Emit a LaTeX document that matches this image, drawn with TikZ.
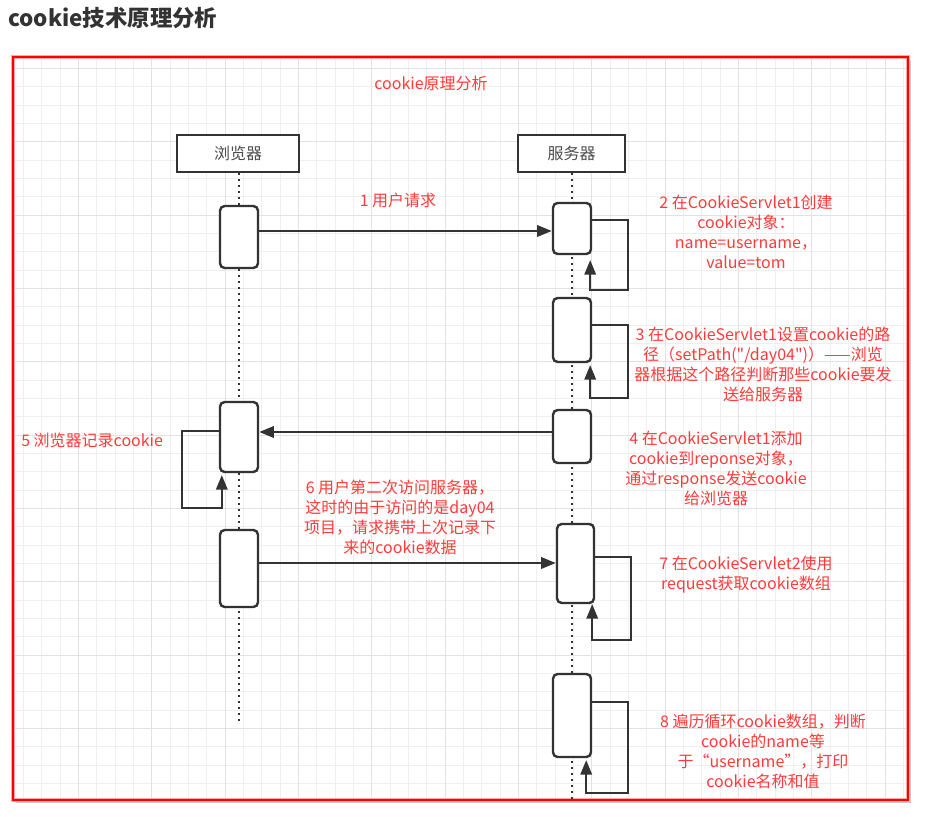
\documentclass[tikz,border=0pt]{standalone}
\usepackage{fontspec}
\setmainfont{Noto Sans CJK SC}[Ligatures=TeXOff]
\usetikzlibrary{arrows.meta}
\definecolor{ink}{HTML}{333333}
\definecolor{lblred}{HTML}{FF3B3B}
\definecolor{framered}{HTML}{FF0000}
\definecolor{gridminor}{HTML}{EFEFEF}
\definecolor{gridmajor}{HTML}{E2E2E2}
\tikzset{
  actbox/.style={draw=ink, fill=white, line width=1.8pt, rounded corners=3.5pt,
    minimum width=28.5pt, inner sep=0pt},
  headbox/.style={draw=ink, fill=white, line width=1.8pt, inner sep=0pt,
    minimum height=27.75pt, font=\fontsize{12}{15}\selectfont, text=black!70},
  msg/.style={draw=ink, line width=1.8pt, -{Triangle[length=11pt,width=8.5pt]}},
  lifeline/.style={draw=ink, line width=1.7pt, dash pattern=on 1.5pt off 3pt},
  lbl/.style={text=lblred, font=\fontsize{12}{15}\selectfont, align=center, inner sep=0pt}
}
\begin{document}
\begin{tikzpicture}[x=0.75pt,y=-0.75pt]
\useasboundingbox (0,0) rectangle (932,817);
% heading
\node[anchor=west, inner sep=0pt, text=ink, font=\fontsize{16.8}{20}\selectfont\bfseries] (heading) at (8,18) {cookie技术原理分析};
% frame shadow and background
\fill[black!22] (16,60) rectangle (911,803);
\fill[white] (13,57) rectangle (908,800);
% grid
\foreach \i in {-11,...,37} {
  \pgfmathsetmacro\xx{225+18.3333*\i}
  \draw[gridminor, line width=0.75pt] (\xx,57) -- (\xx,800);
}
\foreach \j in {-36,...,3} {
  \pgfmathsetmacro\yy{728.333+18.3333*\j}
  \draw[gridminor, line width=0.75pt] (13,\yy) -- (908,\yy);
}
\foreach \i in {-2,...,9} {
  \pgfmathsetmacro\xx{225+73.3333*\i}
  \draw[gridmajor, line width=0.75pt] (\xx,57) -- (\xx,800);
}
\foreach \j in {-9,...,0} {
  \pgfmathsetmacro\yy{728.333+73.3333*\j}
  \draw[gridmajor, line width=0.75pt] (13,\yy) -- (908,\yy);
}
% frame
\draw[framered!35, line width=3pt] (13,57) rectangle (908,800);
\draw[framered, line width=1.5pt] (13,57) rectangle (908,800);

% headers
\node[headbox, minimum width=91.5pt] (Br) at (238,153.5) {浏览器};
\node[headbox, minimum width=80.25pt] (Sv) at (571.5,153.5) {服务器};
\coordinate (brend) at (239,722);
\coordinate (svend) at (572,799);
\draw[lifeline] (Br.south -| brend) -- (brend);
\draw[lifeline] (Sv.south -| svend) -- (svend);

% activation boxes
\node[actbox, minimum height=46.5pt] (B1) at (239,237) {};
\node[actbox, minimum height=52.5pt] (B2) at (239,437) {};
\node[actbox, minimum height=57.75pt] (B3) at (239,568.5) {};
\node[actbox, minimum height=38.25pt] (S1) at (572,228.5) {};
\node[actbox, minimum height=48pt] (S2) at (572,330) {};
\node[actbox, minimum height=39.75pt] (S3) at (572,436.5) {};
\node[actbox, minimum width=27.75pt, minimum height=59.25pt] (S4) at (575.5,563.5) {};
\node[actbox, minimum height=62.25pt] (S5) at (572,715.5) {};

% message levels
\coordinate (y1) at (0,231);
\coordinate (y4) at (0,432);
\coordinate (y6) at (0,563);
\coordinate (l1) at (0,220);
\coordinate (l2) at (0,325);
\coordinate (l5) at (0,431);
\coordinate (l7) at (0,557);
\coordinate (l8) at (0,702);

% messages
\draw[msg] (B1.east |- y1) -- (S1.west |- y1);
\draw[msg] (S3.west |- y4) -- (B2.east |- y4);
\draw[msg] (B3.east |- y6) -- (S4.west |- y6);

% self loops
\draw[msg] (S1.east |- l1) -- ++(36,0) -- ++(0,70) -- ++(-38,0) -- ++(0,-30);
\draw[msg] (S2.east |- l2) -- ++(36,0) -- ++(0,73) -- ++(-38,0) -- ++(0,-33);
\draw[msg] (B2.west |- l5) -- ++(-37,0) -- ++(0,77) -- ++(40,0) -- ++(0,-33);
\draw[msg] (S4.east |- l7) -- ++(36,0) -- ++(0,83) -- ++(-39,0) -- ++(0,-36);
\draw[msg] (S5.east |- l8) -- ++(36,0) -- ++(0,91) -- ++(-42,0) -- ++(0,-33);

% labels
\node[lbl] (L0) at (431,83) {cookie原理分析};
\node[lbl] (L1) at (398,200) {1 用户请求};
\node[lbl] (L2) at (746,232) {2 在CookieServlet1创建\\cookie对象：\\name=username，\\value=tom};
\node[lbl] (L3) at (763,364.5) {3 在CookieServlet1设置cookie的路\\径（setPath("/day04")）——浏览\\器根据这个路径判断那些cookie要发\\送给服务器};
\node[lbl] (L4) at (716,468) {4 在CookieServlet1添加\\cookie到reponse对象，\\通过response发送cookie\\给浏览器};
\node[lbl, anchor=west] (L5) at (21,440) {5 浏览器记录cookie};
\node[lbl] (L6) at (400,517) {6 用户第二次访问服务器，\\这时的由于访问的是day04\\项目，请求携带上次记录下\\来的cookie数据};
\node[lbl] (L7) at (746,575) {7 在CookieServlet2使用\\request获取cookie数组};
\node[lbl] (L8) at (763,751.5) {8 遍历循环cookie数组，判断\\cookie的name等\\于“username”，打印\\cookie名称和值};
\end{tikzpicture}
\end{document}
